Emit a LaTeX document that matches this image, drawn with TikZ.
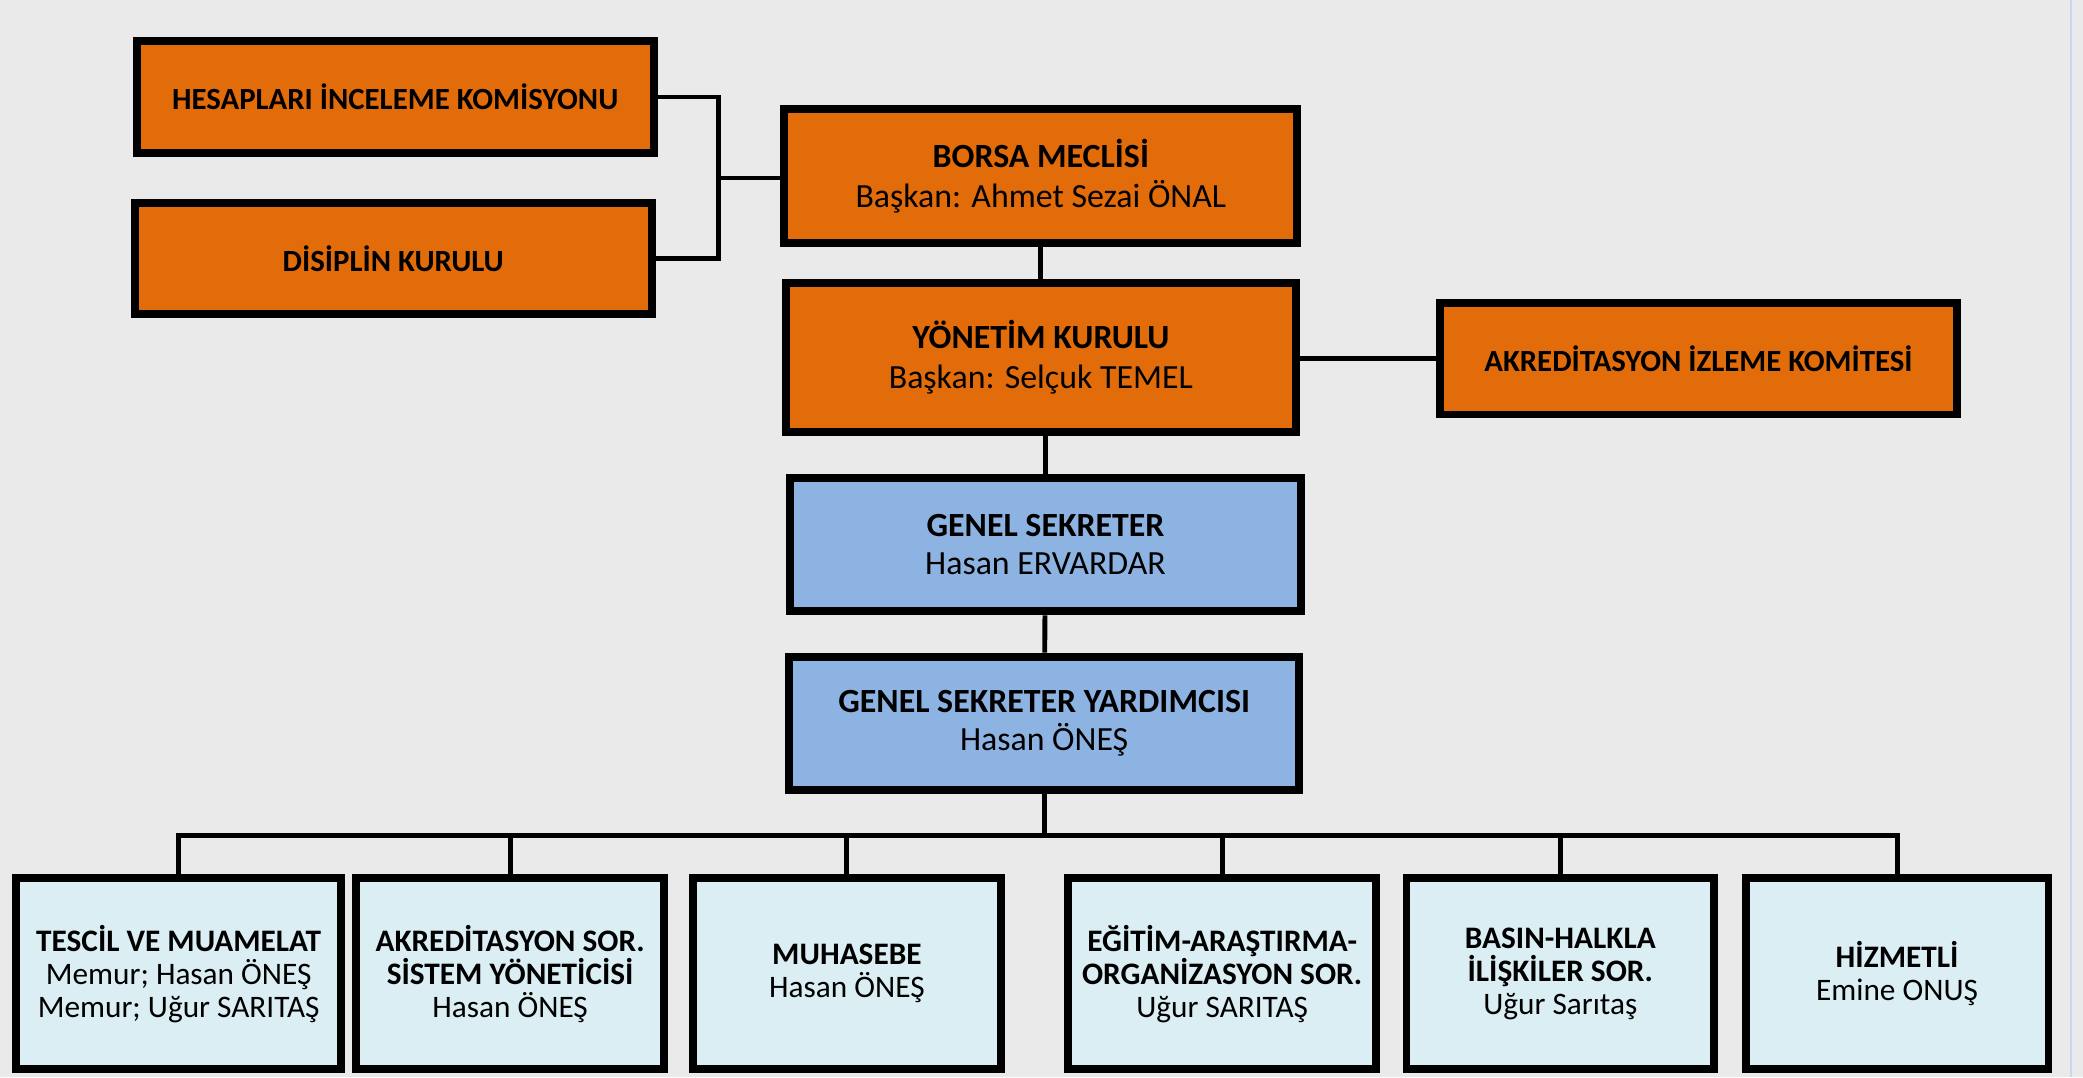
\documentclass[tikz,border=0pt]{standalone}
\usepackage{fontspec}
\setmainfont{Carlito}
\usetikzlibrary{positioning,calc}
\definecolor{orgfill}{HTML}{E36C0A}
\definecolor{blufill}{HTML}{8DB3E2}
\definecolor{ltfill}{HTML}{DBEEF4}
\definecolor{granite}{HTML}{EAEAEA}
\definecolor{edgeblue}{HTML}{C6D9F0}
\tikzset{obox/.style={draw, line width=3.4pt, fill=orgfill, minimum width=7.78cm, minimum height=1.68cm, align=center, inner sep=2pt, font=\fontsize{13.2}{17}\selectfont}}
\tikzset{bbox/.style={obox, fill=blufill, minimum width=7.68cm, minimum height=2.01cm, font=\fontsize{14.5}{16.5}\selectfont}}
\tikzset{lbox/.style={draw, line width=3.4pt, fill=ltfill, minimum width=4.63cm, minimum height=2.88cm, align=center, inner sep=2pt, font=\fontsize{13.4}{14.2}\selectfont}}
\tikzset{conn/.style={draw, line width=2.1pt}}
\newcommand\dropline[2]{
		\draw[conn] (#1) -| (#2.north);
	}

\begin{document}
\begin{tikzpicture}
		\fill[granite] (0,0) rectangle (31.36,-16.22);
		\useasboundingbox (0,0) rectangle (31.36,-16.22);
		\draw[edgeblue, line width=1pt] (31.18,0) -- (31.18,-16.22);
		
		% kurullar
		\node[obox] (hesap) at (5.95,-1.46){\textbf{HESAPLARI İNCELEME KOMİSYONU}};
		\node[obox] (disiplin) at (5.92,-3.89){\textbf{DİSİPLİN KURULU}};
		\node[obox, minimum width=7.72cm, minimum height=2.02cm, font=\fontsize{14.5}{17}\selectfont] (meclis) at (15.67,-2.65){\textbf{BORSA MECLİSİ}\\Başkan: Ahmet Sezai ÖNAL};
		\node[obox, minimum width=7.68cm, minimum height=2.24cm, font=\fontsize{14.5}{17}\selectfont] (yonetim) at (15.67,-5.38){\textbf{YÖNETİM KURULU}\\Başkan: Selçuk TEMEL};
		\node[obox] (akred) at (25.57,-5.4){\textbf{AKREDİTASYON İZLEME KOMİTESİ}};
		
		% sekreterlik
		\node[bbox] (gs) at (15.74,-8.2){\textbf{GENEL SEKRETER}\\Hasan ERVARDAR};
		\node[bbox] (gsy) at (15.72,-10.89){\textbf{GENEL SEKRETER YARDIMCISI}\\Hasan ÖNEŞ};
		
		% birimler
		\node[lbox, minimum width=4.9cm] (tescil) at (2.69,-14.66){\textbf{TESCİL VE MUAMELAT}\\Memur; Hasan ÖNEŞ\\Memur; Uğur SARITAŞ};
		\node[lbox] (sistem) at (7.68,-14.66){\textbf{AKREDİTASYON SOR.}\\\textbf{SİSTEM YÖNETİCİSİ}\\Hasan ÖNEŞ};
		\node[lbox] (muhasebe) at (12.75,-14.66){\textbf{MUHASEBE}\\Hasan ÖNEŞ};
		\node[lbox] (egitim) at (18.4,-14.66){\textbf{EĞİTİM-ARAŞTIRMA-}\\\textbf{ORGANİZASYON SOR.}\\Uğur SARITAŞ};
		\node[lbox] (basin) at (23.49,-14.66){\textbf{BASIN-HALKLA}\\\textbf{İLİŞKİLER SOR.}\\Uğur Sarıtaş};
		\node[lbox, minimum width=4.56cm] (hizmetli) at (28.56,-14.66){\textbf{HİZMETLİ}\\Emine ONUŞ};
		
		\coordinate (split) at (10.82,-2.68);
		\draw[conn] (hesap.east) -| (split) |- (disiplin.east);
		\draw[conn] (split) -- (split -| meclis.west);
		\draw[conn] (meclis) -- (yonetim);
		\draw[conn] (akred.west) -- (akred.west -| yonetim.east);
		\draw[conn] (gs.north) -- (gs.north |- yonetim.south);
		\draw[conn] (gs) -- (gsy);
		
		\coordinate (bus) at (15.72,-12.58);
		\draw[conn] (gsy) -- (bus);
		\foreach \bx in {tescil,sistem,muhasebe,egitim,basin,hizmetli}{
			\dropline{bus}{\bx}
		}
%		\draw[conn] (bus) -| (hizmetli.north);
	\end{tikzpicture}
\end{document}
